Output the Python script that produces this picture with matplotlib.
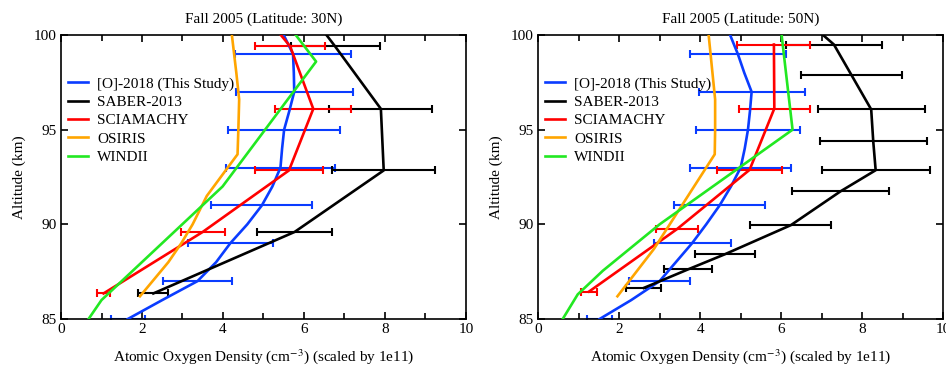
import numpy as np
import matplotlib
matplotlib.use("Agg")
import matplotlib.pyplot as plt
from matplotlib.ticker import MultipleLocator

plt.rcParams['font.family'] = ['Liberation Serif', 'DejaVu Serif']
plt.rcParams['mathtext.fontset'] = 'stix'

# colours / labels
names = ["[O]-2018 (This Study)", "SABER-2013", "SCIAMACHY", "OSIRIS", "WINDII"]
colors = ["#0a3cff", "#000000", "#ff0000", "#ffa500", "#22e822"]
titles = ["Fall 2005 (Latitude: 30N)", "Fall 2005 (Latitude: 50N)"]

nan = np.nan

# ---- 30N ----
blue30_alt = [85, 86, 87, 88, 89, 90, 91, 92, 93, 94, 95, 96, 97, 98, 99, 100, 101]
blue30_val = [1.65, 2.5, 3.37, 3.83, 4.18, 4.6, 4.96, 5.22, 5.42, 5.46, 5.51, 5.64, 5.76, 5.75, 5.73, 5.5, 5.2]
blue30_err = [0.42, nan, 0.85, nan, 1.05, nan, 1.25, nan, 1.35, nan, 1.38, nan, 1.44, nan, 1.43, nan, nan]

saber30_alt = [86.35, 89.6, 92.85, 96.1, 99.4, 102.7]
saber30_val = [2.28, 5.77, 7.97, 7.90, 6.77, 5.6]
saber30_err = [0.37, 0.93, 1.27, 1.27, 1.1, nan]

scia30_alt = [86.35, 89.6, 92.85, 96.1, 99.4, 102.7]
scia30_val = [1.05, 3.5, 5.63, 6.23, 5.66, 4.4]
scia30_err = [0.16, 0.54, 0.85, 0.94, 0.87, nan]

osiris30_alt = [86.2, 88.0, 89.0, 90.0, 91.5, 93.7, 95.0, 96.6, 98.0, 100.0, 101.0]
osiris30_val = [1.95, 2.65, 2.97, 3.25, 3.6, 4.36, 4.38, 4.40, 4.33, 4.22, 4.15]

windii30_alt = [85.0, 86.0, 92.0, 98.6, 101.0]
windii30_val = [0.68, 1.0, 3.99, 6.3, 5.44]

# ---- 50N ----
blue50_alt = [85, 86, 87, 88, 89, 90, 91, 92, 93, 94, 95, 96, 97, 98, 99, 100, 101]
blue50_val = [1.52, 2.3, 3.0, 3.4, 3.8, 4.15, 4.48, 4.76, 5.0, 5.1, 5.18, 5.23, 5.27, 5.09, 4.93, 4.74, 4.55]
blue50_err = [0.31, nan, 0.75, nan, 0.95, nan, 1.12, nan, 1.25, nan, 1.29, nan, 1.31, nan, 1.19, nan, nan]

saber50_alt = [86.64, 87.62, 88.42, 89.96, 91.74, 92.86, 94.4, 96.07, 97.9, 99.5, 101.0]
saber50_val = [2.61, 3.7, 4.61, 6.24, 7.46, 8.33, 8.27, 8.22, 7.73, 7.3, 6.5]
saber50_err = [0.43, 0.6, 0.74, 1.0, 1.19, 1.33, 1.32, 1.32, 1.25, 1.19, nan]

scia50_alt = [86.45, 89.75, 92.88, 96.12, 99.5]
scia50_val = [1.26, 3.43, 5.22, 5.83, 5.82]
scia50_err = [0.2, 0.52, 0.8, 0.87, 0.9]

osiris50_alt = [86.2, 88.7, 93.7, 95.0, 96.6, 100.0, 101.0]
osiris50_val = [1.96, 2.86, 4.36, 4.37, 4.37, 4.21, 4.12]

windii50_alt = [85.0, 86.3, 87.55, 90.0, 95.0, 100.0, 101.0]
windii50_val = [0.61, 0.98, 1.6, 3.0, 6.28, 6.01, 5.95]

panels = [
    [(blue30_alt, blue30_val, blue30_err), (saber30_alt, saber30_val, saber30_err),
     (scia30_alt, scia30_val, scia30_err), (osiris30_alt, osiris30_val, None),
     (windii30_alt, windii30_val, None)],
    [(blue50_alt, blue50_val, blue50_err), (saber50_alt, saber50_val, saber50_err),
     (scia50_alt, scia50_val, scia50_err), (osiris50_alt, osiris50_val, None),
     (windii50_alt, windii50_val, None)],
]

fig = plt.figure(figsize=(9.46, 3.69), dpi=100)
ax_pos = [[0.0645, 0.1355, 0.428, 0.7695], [0.5687, 0.1355, 0.4285, 0.7695]]

for p in range(2):
    ax = fig.add_axes(ax_pos[p])
    for i, (alt, val, err) in enumerate(panels[p]):
        ax.plot(val, alt, color=colors[i], lw=1.9, label=names[i], zorder=3 + i * 0.1)
        if err is not None:
            e = np.array(err, dtype=float)
            m = ~np.isnan(e)
            ax.errorbar(np.array(val)[m], np.array(alt)[m], xerr=e[m], fmt='none',
                        ecolor=colors[i], elinewidth=1.5, capsize=2.8, capthick=1.5,
                        zorder=2)
    ax.set_xlim(0, 10)
    ax.set_ylim(85, 100)
    ax.xaxis.set_major_locator(MultipleLocator(2))
    ax.xaxis.set_minor_locator(MultipleLocator(1))
    ax.yaxis.set_major_locator(MultipleLocator(5))
    ax.tick_params(which='both', direction='in', top=True, right=True, labelsize=11, width=1.2)
    ax.tick_params(which='major', length=5, pad=3)
    ax.tick_params(which='minor', length=4)
    for s in ax.spines.values():
        s.set_linewidth(1.2)
    ax.set_title(titles[p], fontsize=11, pad=9)
    ax.set_ylabel("Altitude (km)", fontsize=11, labelpad=6)
    ax.set_xlabel("Atomic Oxygen Density (cm$^{-3}$) (scaled by 1e11)", fontsize=11, labelpad=8)
    ax.legend(loc='upper left', bbox_to_anchor=(-0.005, 0.885), frameon=False, fontsize=11,
              handlelength=1.3, handletextpad=0.6, labelspacing=0.3, borderaxespad=0.2)

fig.savefig("out.png", dpi=100)
